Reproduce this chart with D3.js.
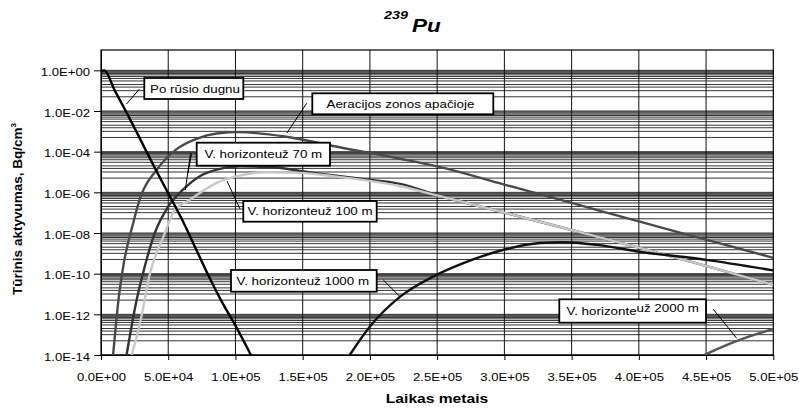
<!DOCTYPE html>
<html>
<head>
<meta charset="utf-8">
<script src="https://cdn.jsdelivr.net/npm/d3@7"></script>
<style>
  body { margin: 0; background: #fff; }
  svg { display: block; font-family: Arial, "Liberation Sans", sans-serif; }
</style>
</head>
<body>
<svg id="chart" width="799" height="414"></svg>
<script>
// ---- Data: 239Pu volumetric activity (Bq/cm3) versus time (years) ----
const xTickValues = [0, 50000, 100000, 150000, 200000, 250000, 300000, 350000, 400000, 450000, 500000];
const xTickLabels = ["0.0E+00", "5.0E+04", "1.0E+05", "1.5E+05", "2.0E+05", "2.5E+05",
                     "3.0E+05", "3.5E+05", "4.0E+05", "4.5E+05", "5.0E+05"];
const yTickValues = [1e0, 1e-2, 1e-4, 1e-6, 1e-8, 1e-10, 1e-12, 1e-14];
const yTickLabels = ["1.0E+00", "1.0E-02", "1.0E-04", "1.0E-06", "1.0E-08", "1.0E-10", "1.0E-12", "1.0E-14"];

const seriesNames = ["Po rūsio dugnu", "Aeracijos zonos apačioje", "V. horizonteuž 70 m",
                     "V. horizonteuž 100 m", "V. horizonteuž 1000 m", "V. horizonteuž 2000 m"];

// Po rūsio dugnu
const basementYears    = [0, 2500, 10000, 20000, 30000, 40000, 50000, 60000, 70000, 80000, 90000, 100000, 111500];
const basementActivity = [0.89, 1.0, 0.11, 6.3e-3, 3.2e-4, 1.6e-5, 8.9e-7, 5.0e-8, 2.0e-9, 7.9e-11, 4.0e-12, 2.8e-13, 1.0e-14];

// Aeracijos zonos apačioje
const aerationYears    = [9000, 10500, 13000, 16500, 24000, 29000, 41500, 56000, 71000, 86000, 103000,
                          138000, 172500, 222500, 250000, 300000, 350000, 400000, 450000, 500000];
const aerationActivity = [1.0e-14, 1.2e-13, 5.1e-12, 2.2e-10, 3.2e-8, 5.0e-7, 1.3e-5, 1.3e-4, 4.3e-4, 7.8e-4, 9.1e-4,
                          5.4e-4, 1.9e-4, 4.5e-5, 1.9e-5, 2.4e-6, 3.0e-7, 3.7e-8, 4.7e-9, 6.0e-10];

// V. horizonte už 70 m
const h70Years    = [19000, 26500, 32500, 40000, 50000, 61000, 73500, 86000, 103000, 123000, 158000,
                     197500, 222500, 250000, 300000, 350000, 400000, 450000, 500000];
const h70Activity = [1.0e-14, 5.1e-12, 2.2e-10, 1.0e-8, 2.0e-7, 1.35e-6, 6.2e-6, 1.3e-5, 1.9e-5, 1.8e-5, 9.1e-6,
                     4.3e-6, 2.6e-6, 7.4e-7, 1.0e-7, 1.4e-8, 1.9e-9, 2.4e-10, 2.8e-11];

// V. horizonte už 100 m
const h100Years    = [22800, 29000, 36500, 46500, 55000, 64000, 73500, 86000, 103000, 123000, 148000,
                      172500, 222500, 250000, 300000, 350000, 400000, 450000, 500000];
const h100Activity = [1.0e-14, 3.6e-13, 1.07e-10, 6.8e-9, 1.4e-7, 3.5e-7, 9.3e-7, 2.9e-6, 6.6e-6, 9.8e-6, 9.1e-6,
                      6.2e-6, 2.0e-6, 7.1e-7, 1.0e-7, 1.4e-8, 1.9e-9, 2.4e-10, 2.8e-11];

// V. horizonte už 1000 m
const h1000Years    = [185000, 200000, 222500, 247000, 269500, 299500, 326500, 344000, 369000, 400500, 450000, 500000];
const h1000Activity = [1.0e-14, 2.5e-13, 7.4e-12, 7.2e-11, 3.3e-10, 1.5e-9, 3.2e-9, 3.5e-9, 2.6e-9, 1.2e-9, 4.8e-10, 1.45e-10];

// V. horizonte už 2000 m
const h2000Years    = [448500, 460000, 475000, 500000];
const h2000Activity = [1.0e-14, 2.2e-14, 5.5e-14, 1.9e-13];

// ---- Layout ----
const svg = d3.select("#chart");
const plot = { left: 101, right: 773.3, top: 50, bottom: 355 };
const SX = 1.25; // horizontal stretch of the lettering

const x = d3.scaleLinear().domain([0, 500000]).range([plot.left, plot.right]);
const y = d3.scaleLog().domain([1e-14, 1e1]).range([plot.bottom, plot.top]);

// ---- Gridlines ----
const grid = svg.append("g").attr("class", "grid");

// horizontal: each two-decade band carries minor lines hanging below its upper bound
const minorFractions = [1, 0.9, 0.8, 0.7, 0.6, 0.5, 0.4, 0.3, 0.2, 0.15, 0.1, 0.05];
const hLines = [];
yTickValues.forEach(top => {
  if (top <= 1e-14) { hLines.push(top); return; }
  minorFractions.forEach(f => hLines.push(top * f));
});
grid.selectAll("line.h").data(hLines).join("line")
  .attr("class", "h")
  .attr("x1", plot.left).attr("x2", plot.right)
  .attr("y1", d => y(d)).attr("y2", d => y(d))
  .attr("stroke", "#000").attr("stroke-width", 0.8);

grid.selectAll("line.v").data(xTickValues.slice(1, -1)).join("line")
  .attr("class", "v")
  .attr("x1", d => x(d)).attr("x2", d => x(d))
  .attr("y1", plot.top).attr("y2", plot.bottom)
  .attr("stroke", "#111").attr("stroke-width", 1);

// plot frame
svg.append("rect")
  .attr("x", plot.left).attr("y", plot.top)
  .attr("width", plot.right - plot.left).attr("height", plot.bottom - plot.top)
  .attr("fill", "none").attr("stroke", "#000").attr("stroke-width", 1.2);

// ---- Axes ----
const yAxis = svg.append("g")
  .attr("transform", `translate(${plot.left},0)`)
  .call(d3.axisLeft(y).tickValues(yTickValues).tickFormat((d, i) => yTickLabels[i]).tickSize(7).tickSizeOuter(0));
yAxis.select(".domain").attr("stroke", "#000");
yAxis.selectAll(".tick line").attr("stroke", "#000");
yAxis.selectAll(".tick text")
  .attr("x", null).attr("dy", null)
  .attr("font-size", 10.5).attr("fill", "#000")
  .attr("text-anchor", "end")
  .attr("transform", `translate(-11,5) scale(${SX},1)`);

const xAxis = svg.append("g")
  .attr("transform", `translate(0,${plot.bottom})`)
  .call(d3.axisBottom(x).tickValues(xTickValues).tickFormat((d, i) => xTickLabels[i]).tickSize(5).tickSizeOuter(0));
xAxis.select(".domain").attr("stroke", "#000");
xAxis.selectAll(".tick line").attr("stroke", "#000");
xAxis.selectAll(".tick text")
  .attr("y", null).attr("dy", null)
  .attr("font-size", 10.5).attr("fill", "#000")
  .attr("transform", `translate(0,25.5) scale(${SX},1)`);

// ---- Series lines ----
svg.append("clipPath").attr("id", "plotClip")
  .append("rect")
  .attr("x", plot.left).attr("y", plot.top)
  .attr("width", plot.right - plot.left).attr("height", plot.bottom - plot.top);

const line = d3.line()
  .x(d => x(d[0]))
  .y(d => y(d[1]))
  .curve(d3.curveMonotoneX);

const series = [
  { years: aerationYears, values: aerationActivity, color: "#4a4a4a", width: 2.4 },
  { years: h70Years,      values: h70Activity,      color: "#333333", width: 2.4 },
  { years: h100Years,     values: h100Activity,     color: "#c8c8c8", width: 2.4 },
  { years: h1000Years,    values: h1000Activity,    color: "#111111", width: 2.4 },
  { years: h2000Years,    values: h2000Activity,    color: "#555555", width: 2.4 },
  { years: basementYears, values: basementActivity, color: "#000000", width: 2.4 }
];

const lines = svg.append("g").attr("clip-path", "url(#plotClip)");
series.forEach(s => {
  lines.append("path")
    .datum(s.years.map((t, i) => [t, s.values[i]]))
    .attr("fill", "none")
    .attr("stroke", s.color)
    .attr("stroke-width", s.width)
    .attr("stroke-linejoin", "round")
    .attr("d", line);
});

// ---- Series labels with leader lines ----
function stretchedText(parent, px, py, str, size, weight, style) {
  return parent.append("text")
    .attr("transform", `translate(${px},${py}) scale(${SX},1)`)
    .attr("font-size", size)
    .attr("font-weight", weight || "normal")
    .attr("font-style", style || "normal")
    .attr("fill", "#000")
    .text(str);
}

const labelLayout = [
  { box: [144.3, 78, 99, 21],      tx: 150,   ty: 93.2,  leaders: [[139.5, 89, 126.5, 104]] },
  { box: [312.3, 93.3, 181, 21],   tx: 326.5, ty: 107.6, leaders: [[306.7, 103.3, 286.7, 133.3]] },
  { box: [196.7, 142.7, 133.3, 23], tx: 204.5, ty: 158,  leaders: [[190.5, 153.5, 185.3, 190], [191.5, 153.5, 188, 173]] },
  { box: [243.3, 201, 133.4, 20.7], tx: 247.5, ty: 214.8, leaders: [[227, 181, 240, 209]] },
  { box: [231, 270, 145.7, 21.7],  tx: 236.5, ty: 284.8, leaders: [[383.3, 280, 400, 296.7]] },
  { box: [559.3, 299.3, 146.7, 23.4], tx: 566.5, ty: 315.2, leaders: [[713.3, 309.3, 736.7, 338.3]] }
];

const labels = svg.append("g");
labelLayout.forEach((L, i) => {
  L.leaders.forEach(l => {
    labels.append("line")
      .attr("x1", l[0]).attr("y1", l[1]).attr("x2", l[2]).attr("y2", l[3])
      .attr("stroke", "#000").attr("stroke-width", 1);
  });
  labels.append("rect")
    .attr("x", L.box[0]).attr("y", L.box[1]).attr("width", L.box[2]).attr("height", L.box[3])
    .attr("fill", "#fff").attr("stroke", "#000").attr("stroke-width", 1.8);
  if (i === 5) {
    // the 2000 m label: distance text sits slightly raised over the word
    const parts = seriesNames[i].split("už");
    stretchedText(labels, L.tx, L.ty, parts[0].trimEnd(), 10.7);
    stretchedText(labels, 636.5, L.ty - 3.3, "už" + parts[1], 10.7);
  } else {
    stretchedText(labels, L.tx, L.ty, seriesNames[i], 10.7);
  }
});

// ---- Titles ----
const title = svg.append("g");
stretchedText(title, 384, 18.5, "239", 11.5, "bold", "italic");
stretchedText(title, 412, 32, "Pu", 18, "bold", "italic");

const xTitle = stretchedText(svg, 437, 403, "Laikas metais", 12.5, "bold");
xTitle.attr("text-anchor", "middle");

const yTitle = svg.append("text")
  .attr("transform", "translate(21.5,209) rotate(-90)")
  .attr("text-anchor", "middle")
  .attr("font-size", 13.5)
  .attr("font-weight", "bold")
  .attr("fill", "#000");
yTitle.append("tspan").text("Tūrinis aktyvumas, Bq/cm");
yTitle.append("tspan").attr("font-size", 8).attr("dy", -6).text("3");
</script>
</body>
</html>
